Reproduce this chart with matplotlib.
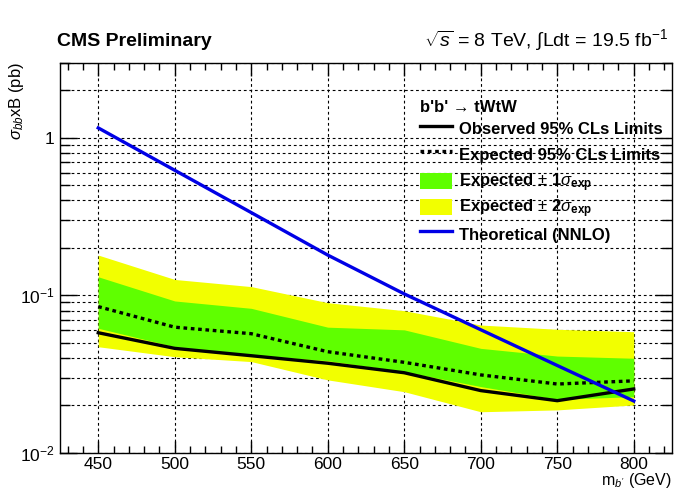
import math
import matplotlib
matplotlib.use("Agg")
import matplotlib.pyplot as plt
from matplotlib.collections import PolyCollection
from matplotlib.legend_handler import HandlerPolyCollection
from matplotlib.ticker import FixedLocator, MultipleLocator, FuncFormatter, NullFormatter

plt.rcParams['font.family'] = ['Liberation Sans', 'DejaVu Sans']
plt.rcParams['mathtext.fontset'] = 'custom'
plt.rcParams['mathtext.rm'] = 'Liberation Sans'
plt.rcParams['mathtext.it'] = 'Liberation Sans:italic'
plt.rcParams['mathtext.bf'] = 'Liberation Sans:bold'

# ---------------------------------------------------------------------------
# data (b' mass in GeV, cross section x BR in pb)
# ---------------------------------------------------------------------------
mass = [450, 500, 550, 600, 650, 700, 750, 800]
observed = [0.0578, 0.0460, 0.0413, 0.0370, 0.0322, 0.0248, 0.0214, 0.0254]
expected = [0.0847, 0.0627, 0.0570, 0.0438, 0.0375, 0.0312, 0.0273, 0.0286]
exp_1sig_up = [0.131, 0.092, 0.0826, 0.0627, 0.0603, 0.0460, 0.0411, 0.0398]
exp_1sig_dn = [0.0617, 0.0471, 0.0418, 0.0384, 0.0327, 0.0263, 0.0218, 0.0227]
exp_2sig_up = [0.180, 0.126, 0.1135, 0.0897, 0.0798, 0.0647, 0.0608, 0.0587]
exp_2sig_dn = [0.0471, 0.0407, 0.0379, 0.0290, 0.0244, 0.0182, 0.0187, 0.0201]
theory = [1.156, 0.622, 0.335, 0.180, 0.102, 0.0604, 0.0358, 0.0213]

y_ticks = [0.01, 0.1, 1]
y_minor = [m * d for d in (0.01, 0.1, 1) for m in range(2, 10)]

GREEN = '#5fff00'
YELLOW = '#f2ff00'
BLUE = '#0000e6'
SWATCH_H = 11.5  # band swatch height in legend (points)


class ShortBand(HandlerPolyCollection):
    """Band swatch shorter than the (tall) legend row."""
    def create_artists(self, legend, orig_handle, xdescent, ydescent,
                       width, height, fontsize, trans):
        cut = max(0.0, (height - SWATCH_H) / 2)
        return super().create_artists(legend, orig_handle, xdescent,
                                      ydescent - cut, width, height - 2 * cut,
                                      fontsize, trans)


W, H = 674, 491
fig = plt.figure(figsize=(W / 100, H / 100), dpi=100)
ax = fig.add_axes([60 / W, 1 - 452.7 / H, 612 / W, 390 / H])

ax.fill_between(mass, exp_2sig_dn, exp_2sig_up, color=YELLOW, lw=0,
                label=r'Expected $\pm$ 2$\sigma_{\mathbf{exp}}$')
ax.fill_between(mass, exp_1sig_dn, exp_1sig_up, color=GREEN, lw=0,
                label=r'Expected $\pm$ 1$\sigma_{\mathbf{exp}}$')
ax.plot(mass, expected, color='black', lw=2.4, linestyle=(0, (1.1, 1.1)),
        label='Expected 95% CLs Limits')
ax.plot(mass, observed, color='black', lw=2.4, label='Observed 95% CLs Limits')
ax.plot(mass, theory, color=BLUE, lw=2.4, label='Theoretical (NNLO)')

ax.set_yscale('log')
ax.set_xlim(425, 825)
ax.set_ylim(0.01, 3)

ax.xaxis.set_major_locator(MultipleLocator(50))
ax.xaxis.set_minor_locator(MultipleLocator(10))
ax.yaxis.set_major_locator(FixedLocator(y_ticks))
ax.yaxis.set_minor_locator(FixedLocator(y_minor))
ax.yaxis.set_minor_formatter(NullFormatter())
ax.yaxis.set_major_formatter(FuncFormatter(
    lambda v, p: '1' if v == 1 else r'$10^{%d}$' % round(math.log10(v))))

ax.tick_params(which='both', direction='in', top=True, right=True,
               labelsize=12.5, width=1)
ax.tick_params(axis='x', which='major', length=9, pad=3)
ax.tick_params(axis='x', which='minor', length=5)
ax.tick_params(axis='y', which='major', length=12, pad=4)
ax.tick_params(axis='y', which='minor', length=7)

ax.set_axisbelow(True)
ax.grid(axis='x', which='major', color='black', lw=0.8, linestyle=(0, (2.5, 2.5)))
ax.grid(axis='y', which='both', color='black', lw=0.8, linestyle=(0, (2.5, 2.5)))
for s in ax.spines.values():
    s.set_linewidth(1.0)

handles, labels = ax.get_legend_handles_labels()
order = [3, 2, 1, 0, 4]
leg = ax.legend([handles[i] for i in order], [labels[i] for i in order],
                title="b'b' \u2192 tWtW", alignment='left',
                title_fontproperties={'weight': 'bold', 'size': 12},
                prop={'weight': 'bold', 'size': 12},
                loc='upper left', bbox_to_anchor=(412 / W, 1 - 92 / H),
                bbox_transform=fig.transFigure, frameon=False, borderpad=0,
                handlelength=1.9, handleheight=1.85, handletextpad=0.4,
                labelspacing=0.1,
                handler_map={PolyCollection: ShortBand()})

fig.text(57 / W, 1 - 46 / H, 'CMS Preliminary', fontsize=14, fontweight='bold',
         va='baseline', ha='left')
fig.text(668 / W, 1 - 46 / H, r'$\sqrt{s}$ = 8 TeV, $\int$Ldt = 19.5 fb$^{-1}$',
         fontsize=14, va='baseline', ha='right')
fig.text(17 / W, 1 - 62 / H, r'$\sigma_{bb}$xB (pb)', fontsize=12,
         rotation=90, va='top', ha='center')
fig.text(672 / W, 1 - 490.5 / H, r"m$_{b'}$ (GeV)", fontsize=11.5,
         va='bottom', ha='right')

fig.savefig('out.png', dpi=100)
